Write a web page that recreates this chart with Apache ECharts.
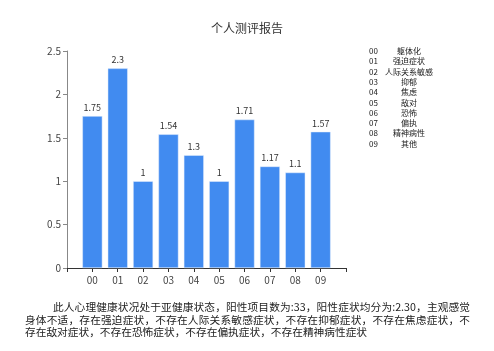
<!DOCTYPE html>
<html>
<head>
    <meta charset="utf-8">
    <title>个人测评报告</title>
    <script src="https://cdn.jsdelivr.net/npm/echarts@6/dist/echarts.min.js"></script>
    <style>
        body { margin: 0; background: #fff; }
        #wrap { position: relative; width: 494px; height: 351px; }
        #chart { position: absolute; left: 0; top: 0; width: 494px; height: 351px; }
        #summary {
            position: absolute;
            left: 25px;
            top: 301px;
            width: 445px;
            font-family: 'Noto Sans CJK SC', sans-serif;
            font-size: 10.7px;
            line-height: 12.5px;
            color: #222;
        }
        #summary div { white-space: nowrap; }
        #summary .full { text-align: justify; text-align-last: justify; }
        #summary .first { padding-left: 28px; }
    </style>
</head>
<body>
<div id="wrap">
    <div id="chart"></div>
    <div id="summary">
        <div class="full first">此人心理健康状况处于亚健康状态，阳性项目数为:33，阳性症状均分为:2.30，主观感觉</div>
        <div class="full">身体不适，存在强迫症状，不存在人际关系敏感症状，不存在抑郁症状，不存在焦虑症状，不</div>
        <div>存在敌对症状，不存在恐怖症状，不存在偏执症状，不存在精神病性症状</div>
    </div>
</div>
<script type="text/javascript">
    // 因子编号与名称
    var codes = ['00', '01', '02', '03', '04', '05', '06', '07', '08', '09'];
    var names = ['躯体化', '强迫症状', '人际关系敏感', '抑郁', '焦虑', '敌对', '恐怖', '偏执', '精神病性', '其他'];
    // 各因子得分
    var scores = [1.75, 2.3, 1, 1.54, 1.3, 1, 1.71, 1.17, 1.1, 1.57];
    var yTicks = [0, 0.5, 1, 1.5, 2, 2.5];

    var font = 'Noto Sans CJK SC';

    // 两端留空位，和原图一样让柱子离坐标轴两端有一格距离
    var xData = [''].concat(codes).concat(['']);
    var barData = ['-'].concat(scores).concat(['-']);

    var legendItems = [];
    for (var i = 0; i < codes.length; i++) {
        legendItems.push({
            type: 'text', left: 369, top: 47 + i * 10.3,
            style: { text: codes[i], font: '8px ' + font, fill: '#222' }
        });
        legendItems.push({
            type: 'text', x: 409, y: 47 + i * 10.3,
            style: { text: names[i], font: '8px ' + font, fill: '#222', textAlign: 'center' }
        });
    }

    var chart = echarts.init(document.getElementById('chart'));
    var option = {
        animation: false,
        title: {
            text: '个人测评报告',
            left: 'center',
            top: 17,
            textStyle: { fontFamily: font, fontWeight: 'normal', fontSize: 12, color: '#333' }
        },
        grid: { left: 67, right: 148, top: 51, bottom: 83 },
        xAxis: {
            type: 'category',
            data: xData,
            boundaryGap: false,
            axisLine: { lineStyle: { color: '#333' } },
            axisTick: { length: 4, lineStyle: { color: '#333' } },
            axisLabel: { interval: 0, fontSize: 10, color: '#444', margin: 7, fontFamily: font }
        },
        yAxis: {
            type: 'value',
            min: yTicks[0],
            max: yTicks[yTicks.length - 1],
            interval: 0.5,
            splitLine: { show: false },
            axisLine: { show: true, lineStyle: { color: '#888' } },
            axisTick: { show: true, length: 4, lineStyle: { color: '#888' } },
            axisLabel: { fontSize: 10, color: '#444', margin: 6, fontFamily: font }
        },
        series: [{
            type: 'bar',
            data: barData,
            barWidth: 20,
            itemStyle: { color: '#418bf0', borderColor: '#e8f0fd', borderWidth: 0.5 },
            label: { show: true, position: 'top', distance: 4, fontSize: 9, color: '#333', fontFamily: font }
        }],
        graphic: legendItems
    };
    chart.setOption(option);
</script>
</body>
</html>
